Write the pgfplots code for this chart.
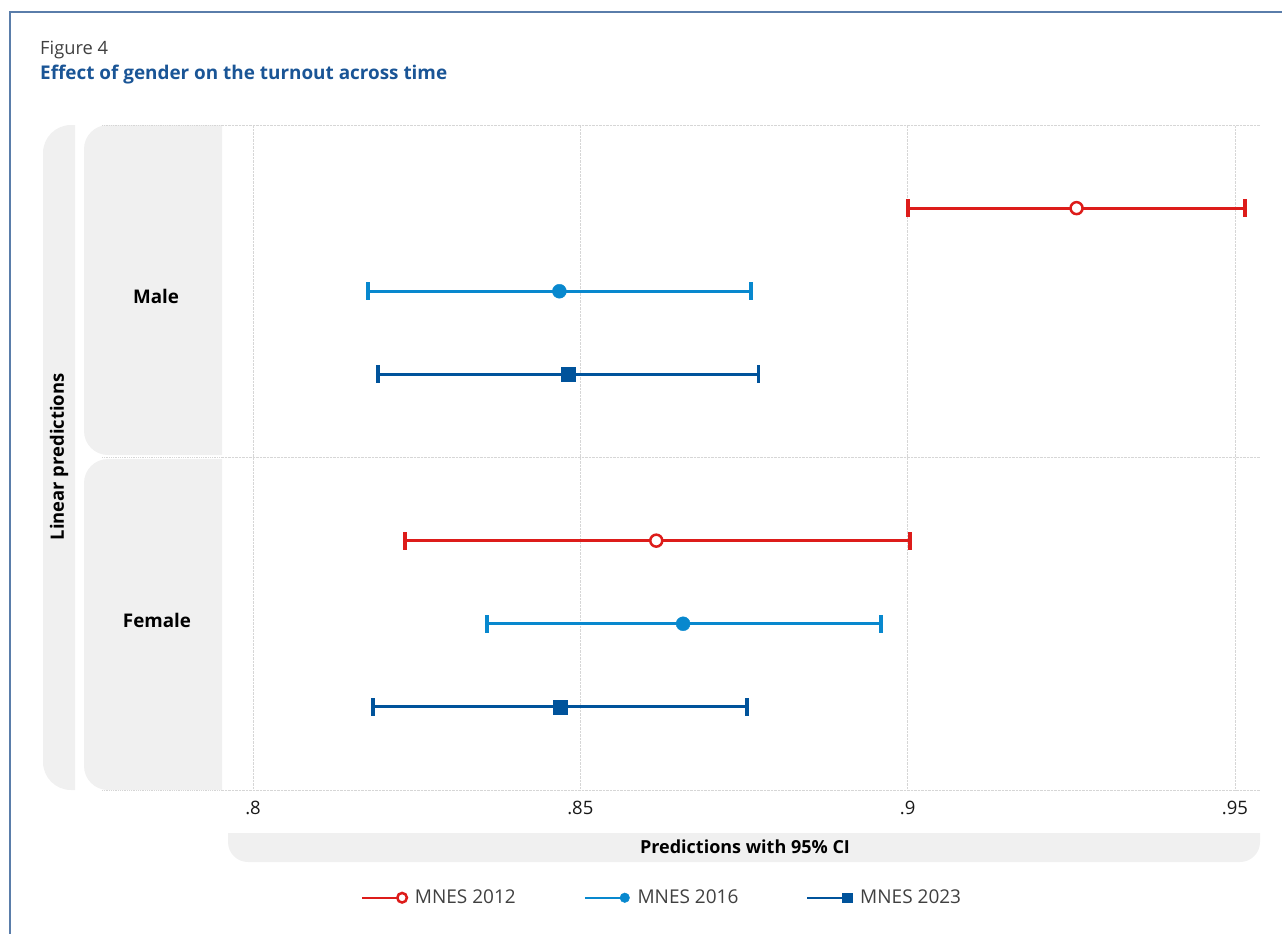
\documentclass[border=0pt]{standalone}
\usepackage{pgfplots}
\pgfplotsset{compat=1.18}
\usepackage{pgfplotstable}
\usepackage{fontspec}
\setmainfont{Open Sans}
\definecolor{cred}{HTML}{DD1C1A}
\definecolor{clblue}{HTML}{0888CE}
\definecolor{cdblue}{HTML}{00539B}
\definecolor{ctitle}{HTML}{1A5596}
\definecolor{cframe}{HTML}{5A7DAA}
\definecolor{cpanel}{HTML}{F0F0F0}
\definecolor{cgrid}{HTML}{D6D6D6}

\pgfdeclareplotmark{cap}{%
  \pgfpathrectangle{\pgfqpoint{-1.9pt}{-9pt}}{\pgfqpoint{3.8pt}{18pt}}%
  \pgfusepathqfill}

% pos: row position (Male rows 7,6,5 ; Female rows 3,2,1)
\pgfplotstableread{
pos est lo hi
7 0.9258 0.9000 0.9515
3 0.8616 0.8232 0.9003
}\tabA
\pgfplotstableread{
pos est lo hi
6 0.8468 0.8176 0.8761
2 0.8657 0.8358 0.8959
}\tabB
\pgfplotstableread{
pos est lo hi
5 0.8482 0.8191 0.8772
1 0.8469 0.8183 0.8754
}\tabC

\begin{document}
\begin{tikzpicture}
\begin{scope}[x=1pt,y=-1pt]
\useasboundingbox (0,0) rectangle (1282,934);
% frame
\draw[cframe, line width=2pt] (10,12) rectangle (1300,950);
% titles
\node[anchor=base west, inner sep=0pt, text=black!75] at (40,55) {\fontsize{18.3}{20}\selectfont Figure 4};
\node[anchor=base west, inner sep=0pt, text=ctitle] at (40,80) {\fontsize{18.9}{22}\selectfont\bfseries Effect of gender on the turnout across time};
% outer strip
\begin{scope}
\clip (43,125) rectangle (75,790);
\fill[cpanel, rounded corners=28pt] (43,125) rectangle (140,790);
\end{scope}
% inner panels
\begin{scope}
\clip (84,125) rectangle (222,455);
\fill[cpanel, rounded corners=24pt] (84,125) rectangle (300,455);
\end{scope}
\begin{scope}
\clip (84,459) rectangle (222,790);
\fill[cpanel, rounded corners=24pt] (84,459) rectangle (300,790);
\end{scope}
% x title strip
\begin{scope}
\clip (228,833) rectangle (1260,862);
\fill[cpanel, rounded corners=20pt] (228,800) rectangle (1260,862);
\end{scope}
% grid extensions over panels
\foreach \yy in {125,457,790} {
  \draw[cgrid, densely dotted, line width=0.8pt] (102,\yy) -- (222,\yy);
}
\node[rotate=90, inner sep=0pt] at (59,457) {\fontsize{18.4}{20}\selectfont\bfseries Linear predictions};
\node[inner sep=0pt] at (156,296) {\fontsize{18.8}{20}\selectfont\bfseries Male};
\node[inner sep=0pt] at (157,620) {\fontsize{18.8}{20}\selectfont\bfseries Female};
\node[inner sep=0pt] at (745,847) {\fontsize{18}{20}\selectfont\bfseries Predictions with 95\% CI};
\end{scope}

\begin{axis}[
  at={(222pt,-790pt)}, anchor=south west,
  scale only axis, width=1038pt, height=665pt,
  xmin=0.79526, xmax=0.95382, ymin=0, ymax=8,
  axis line style={draw=none},
  major tick length=0pt,
  xtick={0.8,0.85,0.9,0.95},
  xticklabels={.8,.85,.9,.95},
  ytick={0,4,8}, yticklabels={},
  xmajorgrids, ymajorgrids,
  grid style={cgrid, densely dotted, line width=0.8pt},
  /pgf/number format/assume math mode=true,
  xticklabel style={font=\fontsize{18.5}{20}\selectfont, text=black!90, yshift=-8pt},
  clip=false,
  legend columns=3,
  legend style={at={(0.424,-0.162)}, anchor=center, draw=none, fill=none,
    font=\fontsize{19}{20}\selectfont, text=black!75,
    /tikz/every even column/.append style={column sep=66pt},
    /tikz/every odd column/.append style={column sep=6pt}},
  legend image code/.code={
    \draw[#1, mark=none, line width=2pt] (0pt,0pt) -- (36pt,0pt);
    \draw[#1, mark size=4.8pt] plot coordinates {(40pt,0pt)};
  },
]
\addplot[cred, only marks, mark=*, mark size=6pt,
  mark options={fill=white, line width=2.5pt},
  error bars/.cd, x dir=both, x explicit, error mark=cap,
  error bar style={line width=3pt},
  error mark options={fill=cred, draw=none}]
  table[x=est, y=pos, x error plus expr=\thisrow{hi}-\thisrow{est}, x error minus expr=\thisrow{est}-\thisrow{lo}] {\tabA};
\addlegendentry{MNES 2012}
\addplot[clblue, only marks, mark=*, mark size=7pt,
  mark options={fill=clblue},
  error bars/.cd, x dir=both, x explicit, error mark=cap,
  error bar style={line width=3pt},
  error mark options={fill=clblue, draw=none}]
  table[x=est, y=pos, x error plus expr=\thisrow{hi}-\thisrow{est}, x error minus expr=\thisrow{est}-\thisrow{lo}] {\tabB};
\addlegendentry{MNES 2016}
\addplot[cdblue, only marks, mark=square*, mark size=7pt,
  mark options={fill=cdblue},
  error bars/.cd, x dir=both, x explicit, error mark=cap,
  error bar style={line width=3pt},
  error mark options={fill=cdblue, draw=none}]
  table[x=est, y=pos, x error plus expr=\thisrow{hi}-\thisrow{est}, x error minus expr=\thisrow{est}-\thisrow{lo}] {\tabC};
\addlegendentry{MNES 2023}
\end{axis}
\end{tikzpicture}
\end{document}
